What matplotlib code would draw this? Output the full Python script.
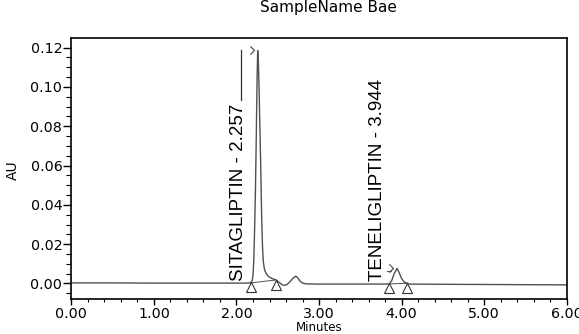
import numpy as np
import matplotlib
matplotlib.use("Agg")
import matplotlib.pyplot as plt
from matplotlib.path import Path
from matplotlib.transforms import offset_copy

# ---- data ----
time_min = [0.00, 0.50, 1.00, 1.50, 2.00, 2.10, 2.17, 2.19, 2.20, 2.21, 2.22, 2.23,
            2.24, 2.25, 2.257, 2.265, 2.275, 2.285, 2.295, 2.305, 2.315, 2.325,
            2.34, 2.36, 2.39, 2.43, 2.48, 2.52, 2.56, 2.60, 2.64, 2.67, 2.70, 2.72,
            2.74, 2.77, 2.80, 2.85, 3.00, 3.50, 3.80, 3.85, 3.88, 3.91, 3.944, 3.97,
            4.00, 4.03, 4.07, 4.10, 4.50, 5.00, 5.50, 6.00]
absorb_au = [0.0003, 0.0003, 0.0002, 0.0002, 0.0002, 0.0002, 0.0003, 0.0015, 0.004,
             0.012, 0.028, 0.048, 0.075, 0.105, 0.1185, 0.113, 0.097, 0.077, 0.057,
             0.034, 0.019, 0.011, 0.007, 0.005, 0.0035, 0.0025, 0.0018, 0.0005,
             -0.0008, -0.0008, 0.0005, 0.002, 0.0033, 0.0037, 0.003, 0.0012, 0.0002,
             -0.0002, -0.0003, -0.0003, -0.0003, -0.0002, 0.0015, 0.005, 0.0077,
             0.0055, 0.0025, 0.0008, 0.0001, -0.0003, -0.0004, -0.0005, -0.0006,
             -0.0007]

peak_names = ["SITAGLIPTIN", "TENELIGLIPTIN"]
peak_rt = [2.257, 3.944]
peak_height = [0.1185, 0.0077]
peak_start = [2.17, 3.85]
peak_end = [2.48, 4.07]

x_ticks = [0, 1, 2, 3, 4, 5, 6]
x_ticklabels = ["0.00", "1.00", "2.00", "3.00", "4.00", "5.00", "6.00"]
y_ticks = [0.00, 0.02, 0.04, 0.06, 0.08, 0.10, 0.12]
y_ticklabels = ["0.00", "0.02", "0.04", "0.06", "0.08", "0.10", "0.12"]

title_text = "SampleName Bae"
x_label = "Minutes"
y_label = "AU"

# ---- figure ----
W, H = 579, 334
fig = plt.figure(figsize=(W / 100, H / 100), dpi=100)
ax = fig.add_axes([71.3 / W, 1 - 298.5 / H, (566.8 - 71.3) / W, (298.5 - 38.3) / H])

line_col = "#505050"
ax.plot(time_min, absorb_au, color=line_col, lw=1.0)

ax.set_xlim(0, 6)
ax.set_ylim(-0.00763, 0.1247)
ax.set_xticks(x_ticks)
ax.set_xticklabels(x_ticklabels)
ax.set_yticks(y_ticks)
ax.set_yticklabels(y_ticklabels)
ax.set_xticks(np.arange(0, 6.01, 0.2), minor=True)
ax.set_yticks(np.arange(-0.005, 0.1201, 0.005), minor=True)

for lab in ax.get_xticklabels() + ax.get_yticklabels():
    lab.set_fontfamily("DejaVu Sans")
    lab.set_fontsize(10.3)
ax.tick_params(axis="x", which="major", direction="out", length=4.5, width=1, pad=1.5)
ax.tick_params(axis="x", which="minor", direction="out", length=2.2, width=0.8)
ax.tick_params(axis="y", which="major", direction="out", length=5.5, width=1, pad=1)
ax.tick_params(axis="y", which="minor", direction="out", length=3.5, width=0.8)
for s in ax.spines.values():
    s.set_linewidth(1.2)
    s.set_color("black")

# baseline markers (open triangles) and integration baseline
t_arr = np.array(time_min)
a_arr = np.array(absorb_au)
tri_tr = offset_copy(ax.transData, fig=fig, x=0, y=-3.3, units="points")
for s, e in zip(peak_start, peak_end):
    ys = np.interp(s, t_arr, a_arr)
    ye = np.interp(e, t_arr, a_arr)
    ax.plot([s, e], [ys, ye], color=line_col, lw=0.7)
    ax.plot([s, e], [ys, ye], linestyle="none", marker="^", markersize=6.5,
            markerfacecolor="white", markeredgecolor="#333333", markeredgewidth=0.8,
            transform=tri_tr, clip_on=False)

# peak labels
chev = Path([(-1, 1), (0, 0), (-1, -1)], [Path.MOVETO, Path.LINETO, Path.LINETO])
label_font = dict(family="Liberation Sans", size=13.5)
texts = []
for name, rt in zip(peak_names, peak_rt):
    tr = offset_copy(ax.transData, fig=fig, x=-14.0, y=1.5, units="points")
    t = ax.text(rt, 0, f"{name} - {rt:.3f}", rotation=90, ha="center", va="bottom",
                transform=tr, fontdict=label_font, color="black")
    texts.append(t)

fig.canvas.draw()
renderer = fig.canvas.get_renderer()
inv = ax.transData.inverted()
for t, rt, h in zip(texts, peak_rt, peak_height):
    bb = t.get_window_extent(renderer)
    top_data = inv.transform((0, bb.y1))[1]
    chev_tr = offset_copy(ax.transData, fig=fig, x=-2.8, y=0.6, units="points")
    ax.plot([rt], [h], marker=chev, markersize=6, markerfacecolor="none",
            markeredgecolor="#555555", markeredgewidth=0.9, linestyle="none",
            transform=chev_tr)
    if top_data < h:
        # vertical leader from text top to apex height
        lead_tr = offset_copy(ax.transData, fig=fig, x=-12.0, y=0, units="points")
        gap = 4 / 1966.7
        ax.plot([rt, rt], [top_data + gap, h], color="#333333", lw=0.9, transform=lead_tr)
    else:
        lead_tr = offset_copy(ax.transData, fig=fig, x=0, y=-2, units="points")
        xa = inv.transform((bb.x1 + 1, 0))[0]
        xb = inv.transform((ax.transData.transform((rt, 0))[0] - 6, 0))[0]
        ax.plot([xa, xb], [h, h], color="#555555", lw=0.8, transform=lead_tr)

# axis labels and title
fig.text(13 / W, 1 - 170 / H, y_label, rotation=90, ha="center", va="center",
         fontsize=10, family="DejaVu Sans")
fig.text((71.3 + 566.8) / 2 / W, 1 - 334 / H, x_label, ha="center", va="bottom",
         fontsize=8.5, family="DejaVu Sans")
fig.text(328 / W, 1 - 12 / H, title_text, ha="center", va="baseline",
         fontsize=11, family="DejaVu Sans")

fig.savefig("out.png", dpi=100)
